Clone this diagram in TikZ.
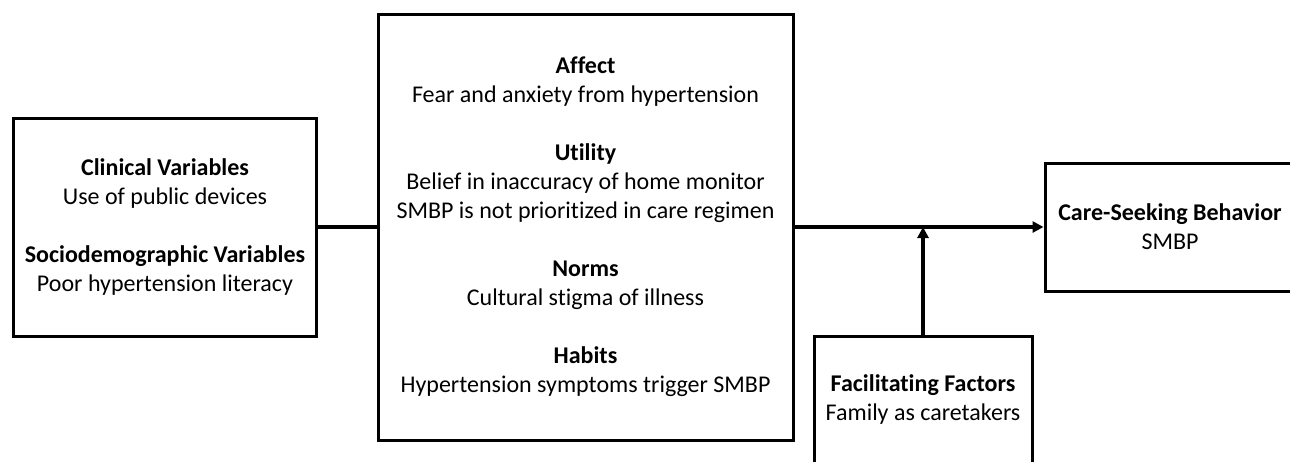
\documentclass[tikz,border=0pt]{standalone}
\usepackage{fontspec}
\setmainfont{Carlito}[Ligatures={NoCommon}]
\usetikzlibrary{arrows.meta}
\tikzset{
  box/.style={draw=black, line width=3pt, rectangle, align=center, inner sep=0pt,
              font=\fontsize{24}{29}\selectfont},
  conn/.style={line width=4pt},
  arr/.style={line width=4pt, -{Triangle[length=11pt,width=11pt]}}
}
\begin{document}
\begin{tikzpicture}[x=1pt,y=-1pt]
\useasboundingbox (0,0) rectangle (1290,461);
\node[box, minimum width=303pt, minimum height=218pt] (left) at (165,227)
  {\textbf{Clinical Variables}\\ Use of public devices\\[29pt]
   \textbf{Sociodemographic Variables}\\ Poor hypertension literacy};
\node[box, minimum width=415pt, minimum height=426pt] (mid) at (585.5,227)
  {\textbf{Affect}\\ Fear and anxiety from hypertension\\[29pt]
   \textbf{Utility}\\ Belief in inaccuracy of home monitor\\ SMBP is not prioritized in care regimen\\[29pt]
   \textbf{Norms}\\ Cultural stigma of illness\\[29pt]
   \textbf{Habits}\\ Hypertension symptoms trigger SMBP};
\node[box, minimum width=250pt, minimum height=128pt] (right) at (1170,227)
  {\textbf{Care-Seeking Behavior}\\ SMBP};
\node[box, minimum width=218pt, minimum height=128pt] (fac) at (923,400)
  {\textbf{Facilitating Factors}\\ Family as caretakers};
\draw[conn] (left.east) -- (mid.west);
\draw[arr] (mid.east) -- (right.west);
\draw[arr] (fac.north) -- (fac.north |- mid.east);
\end{tikzpicture}
\end{document}
